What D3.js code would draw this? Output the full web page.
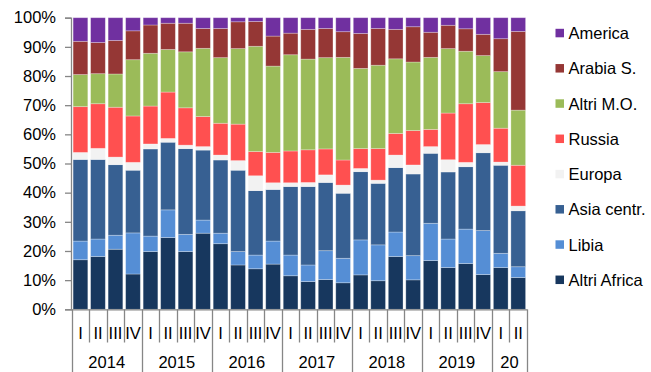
<!DOCTYPE html>
<html>
<head>
<meta charset="utf-8">
<script src="https://cdn.jsdelivr.net/npm/d3@7"></script>
<style>
  html, body { margin: 0; padding: 0; background: #fff; }
  svg { display: block; font-family: "Liberation Sans", Arial, sans-serif; }
</style>
</head>
<body>
<svg id="chart" width="651" height="372"></svg>
<script>
// ---- Data ----
const quarters = ["I","II","III","IV","I","II","III","IV","I","II","III","IV","I","II","III","IV","I","II","III","IV","I","II","III","IV","I","II"];
const years = ["2014","2015","2016","2017","2018","2019","20"];
const yearSpans = [4,4,4,4,4,4,2];
const seriesNames = ["Altri Africa","Libia","Asia centr.","Europa","Russia","Altri M.O.","Arabia S.","America"];
const seriesColors = ["#17375E","#558ED5","#376092","#F2F2F2","#FF5050","#9BBB59","#953735","#7030A0"];

const altriAfrica = [17.0,18.1,20.6,12.1,19.8,24.6,19.8,26.1,22.5,15.2,13.9,15.5,11.5,9.5,10.2,9.1,11.8,9.8,18.1,10.1,16.7,14.3,15.7,11.9,14.3,10.9];
const libia       = [6.4,6.0,4.8,14.1,5.3,9.5,5.9,4.5,3.6,4.6,4.7,7.9,7.1,5.7,9.9,8.4,12.0,12.3,8.4,8.3,12.8,9.8,11.8,15.1,4.9,3.7];
const asiaCentr   = [28.0,27.3,24.2,21.5,29.9,23.2,29.4,24.0,25.1,27.9,22.1,17.7,23.5,26.9,23.4,22.3,23.4,21.1,22.1,28.0,24.0,23.0,21.4,26.7,30.2,19.2];
const europa      = [2.4,3.8,2.6,2.7,1.7,1.3,1.2,1.2,1.7,3.3,5.1,2.3,1.3,1.4,2.6,2.8,1.1,1.1,4.3,3.1,2.3,4.2,1.5,2.8,1.1,1.6];
const russia      = [15.7,15.3,17.1,15.9,13.0,15.9,12.8,10.3,10.9,12.5,8.3,10.4,10.9,11.2,8.9,8.6,6.8,10.8,7.4,11.8,5.9,16.0,20.1,14.4,11.6,14.0];
const altriMO     = [11.0,10.3,11.4,19.3,18.1,14.6,19.2,23.4,22.5,25.9,36.1,29.6,33.0,31.1,31.3,35.2,27.5,28.6,25.6,23.5,24.7,22.1,18.0,16.1,19.4,18.9];
const arabiaS     = [11.4,10.7,11.5,9.9,9.7,9.0,9.8,6.8,10.0,9.2,8.5,10.3,7.4,10.2,10.0,8.8,12.0,12.6,10.1,12.1,8.6,8.0,7.7,7.3,11.3,27.0];
const america     = [8.1,8.5,7.8,4.5,2.5,1.9,1.9,3.7,3.7,1.4,1.3,6.3,5.3,4.0,3.7,4.8,5.4,3.7,4.0,3.1,5.0,2.6,3.8,5.7,7.2,4.7];
const yTicks = [0,0.1,0.2,0.3,0.4,0.5,0.6,0.7,0.8,0.9,1.0];

// ---- Build table ----
const seriesArrays = [altriAfrica, libia, asiaCentr, europa, russia, altriMO, arabiaS, america];
const table = quarters.map((q, i) => {
  const row = { idx: i };
  seriesNames.forEach((n, k) => row[n] = seriesArrays[k][i]);
  return row;
});

const svg = d3.select("#chart");
const axisColor = "#868686";
const fontSize = 16.5;

const x = d3.scaleBand().domain(d3.range(quarters.length)).range([71.7, 527]).paddingInner(0.16).paddingOuter(0.08);
const y = d3.scaleLinear().domain([0, 1]).range([309.3, 17.7]);
const color = d3.scaleOrdinal().domain(seriesNames).range(seriesColors);

const stack = d3.stack().keys(seriesNames).offset(d3.stackOffsetExpand);
const stacked = stack(table);

// ---- Bars ----
svg.append("g").selectAll("g").data(stacked).join("g")
  .attr("fill", d => color(d.key))
  .selectAll("rect").data(d => d).join("rect")
  .attr("x", d => x(d.data.idx))
  .attr("width", x.bandwidth())
  .attr("y", d => y(d[1]))
  .attr("height", d => y(d[0]) - y(d[1]))
  .attr("stroke", "rgba(255,255,255,0.35)")
  .attr("stroke-width", 0.8);

// ---- Y axis ----
const yAxis = d3.axisLeft(y).tickValues(yTicks).tickFormat(d3.format(".0%")).tickSize(6).tickPadding(9);
const gy = svg.append("g").attr("transform", "translate(71,0)").call(yAxis);
gy.select(".domain").attr("stroke", axisColor).attr("stroke-width", 1.3);
gy.selectAll(".tick line").attr("stroke", axisColor).attr("stroke-width", 1.3);
gy.selectAll(".tick text").attr("fill", "#000").attr("font-size", fontSize).attr("font-family", "'Liberation Sans', Arial, sans-serif");

// ---- X axis (multi-level) ----
const step = x.step();
const x0 = x.range()[0];
const gx = svg.append("g");
gx.append("line").attr("x1", 71).attr("x2", 527).attr("y1", 309.8).attr("y2", 309.8)
  .attr("stroke", axisColor).attr("stroke-width", 1.3);

// boundaries
const yearBounds = new Set();
let acc = 0; yearBounds.add(0);
yearSpans.forEach(s => { acc += s; yearBounds.add(acc); });
d3.range(quarters.length + 1).forEach(i => {
  const bx = Math.round(x0 + i * step) + 0.5;
  gx.append("line").attr("x1", bx).attr("x2", bx).attr("y1", 309.3)
    .attr("y2", yearBounds.has(i) ? 372 : 342.5)
    .attr("stroke", axisColor).attr("stroke-width", 1.3);
});

// quarter labels
gx.selectAll("text.q").data(quarters).join("text").attr("class", "q")
  .attr("x", (d, i) => x(i) + x.bandwidth() / 2)
  .attr("y", 338.5)
  .attr("text-anchor", "middle")
  .attr("font-size", fontSize)
  .attr("fill", "#000")
  .text(d => d);

// year labels
let start = 0;
years.forEach((yr, k) => {
  const cx = x0 + (start + yearSpans[k] / 2) * step;
  gx.append("text").attr("x", cx).attr("y", 368).attr("text-anchor", "middle")
    .attr("font-size", fontSize).attr("fill", "#000").text(yr);
  start += yearSpans[k];
});

// ---- Legend ----
const legendOrder = seriesNames.slice().reverse();
const lg = svg.append("g").selectAll("g").data(legendOrder).join("g")
  .attr("transform", (d, i) => `translate(555.5, ${33.3 + i * 35.25})`);
lg.append("rect").attr("x", 0).attr("y", -4.5).attr("width", 8.5).attr("height", 8.5).attr("fill", d => color(d));
lg.append("text").attr("x", 13).attr("y", 0).attr("dy", "0.35em")
  .attr("font-size", fontSize).attr("fill", "#000").text(d => d);
</script>
</body>
</html>
